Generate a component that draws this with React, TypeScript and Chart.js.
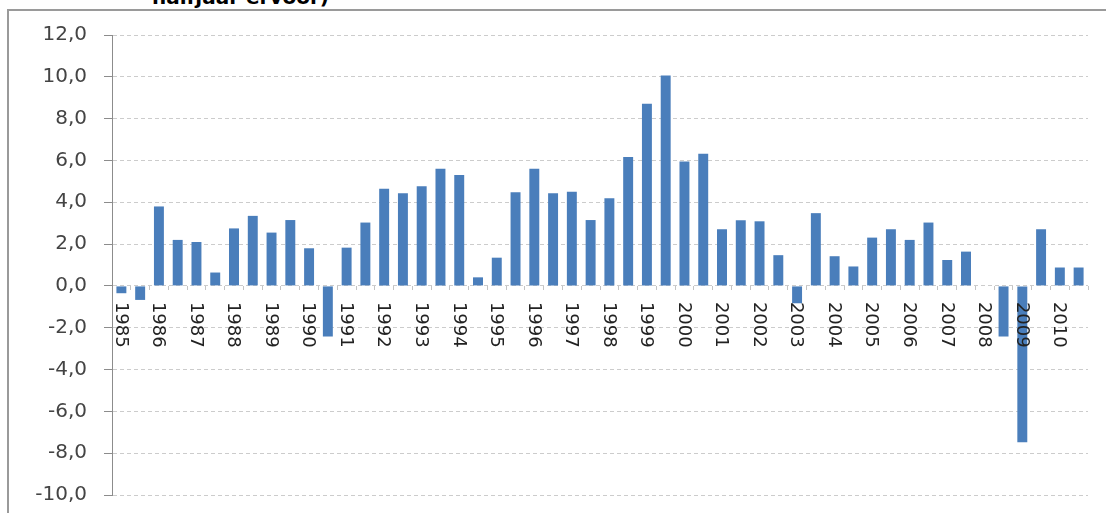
import React, { useEffect, useRef } from "react";
import { Chart, registerables } from "chart.js";

Chart.register(...registerables);

// Half-year data, 1985 H1 .. 2010 H2
const years: string[] = [
  "1985", "1986", "1987", "1988", "1989", "1990", "1991", "1992", "1993",
  "1994", "1995", "1996", "1997", "1998", "1999", "2000", "2001", "2002",
  "2003", "2004", "2005", "2006", "2007", "2008", "2009", "2010",
];
const halves: string[] = ["H1", "H2"];

const growth: number[] = [
  -0.35, -0.67,
  3.8, 2.2,
  2.1, 0.64,
  2.75, 3.35,
  2.55, 3.15,
  1.8, -2.42,
  1.83, 3.03,
  4.65, 4.43,
  4.77, 5.6,
  5.3, 0.41,
  1.35, 4.48,
  5.6, 4.43,
  4.5, 3.15,
  4.19, 6.17,
  8.71, 10.06,
  5.95, 6.32,
  2.71, 3.14,
  3.09, 1.47,
  -0.83, 3.48,
  1.42, 0.93,
  2.31, 2.71,
  2.2, 3.03,
  1.24, 1.64,
  0, -2.42,
  -7.48, 2.71,
  0.88, 0.88,
];

const yMin = -10;
const yMax = 12;
const yStep = 2;

const titleText = "halfjaar ervoor)";

const categories: string[] = years.flatMap((y) => halves.map((h) => `${y} ${h}`));

const yearLabelsPlugin = {
  id: "yearLabels",
  afterDatasetsDraw(chart: any) {
    const { ctx } = chart;
    const xs = chart.scales.x;
    const ys = chart.scales.y;
    const y0 = ys.getPixelForValue(0);
    ctx.save();
    ctx.font = "18px 'DejaVu Sans'";
    ctx.fillStyle = "#222222";
    ctx.textAlign = "left";
    ctx.textBaseline = "middle";
    years.forEach((yr, i) => {
      const x = xs.getPixelForValue(i * 2);
      ctx.save();
      ctx.translate(x - 1, y0 + 16);
      ctx.rotate(Math.PI / 2);
      ctx.fillText(yr, 0, 0);
      ctx.restore();
    });
    ctx.restore();
  },
};

export default function App() {
  const ref = useRef<HTMLCanvasElement | null>(null);

  useEffect(() => {
    if (!ref.current) return;
    const chart = new Chart(ref.current, {
      type: "bar",
      data: {
        labels: categories,
        datasets: [
          {
            data: growth,
            backgroundColor: "#4A7EBB",
            borderWidth: 0,
            barPercentage: 0.53,
            categoryPercentage: 1,
          },
        ],
      },
      options: {
        responsive: false,
        animation: false,
        devicePixelRatio: 1,
        layout: { padding: { left: 0, top: 35, right: 18, bottom: 18 } },
        plugins: {
          legend: { display: false },
          tooltip: { enabled: false },
          title: { display: false },
        },
        scales: {
          x: {
            type: "category",
            position: { y: 0 } as any,
            offset: true,
            grid: {
              offset: true,
              drawOnChartArea: false,
              drawTicks: true,
              tickLength: 4,
              tickColor: "#c4c4c4",
              color: "#c4c4c4",
            },
            border: { display: false },
            ticks: { display: false },
          },
          y: {
            min: yMin,
            max: yMax,
            afterFit(scale: any) {
              scale.width = 112;
              scale.paddingTop = 0;
              scale.paddingBottom = 0;
            },
            ticks: {
              stepSize: yStep,
              padding: 17,
              color: "#444444",
              font: { family: "'DejaVu Sans'", size: 20 },
              callback: (v: any) => Number(v).toFixed(1).replace(".", ","),
            },
            grid: {
              color: "#cccccc",
              lineWidth: 1,
              tickLength: 8,
              tickColor: "#8c8c8c",
              tickBorderDash: [],
            },
            border: {
              display: true,
              color: "#8c8c8c",
              width: 1,
              dash: [4, 3],
            },
          },
        },
      },
      plugins: [yearLabelsPlugin],
    });
    return () => chart.destroy();
  }, []);

  return (
    <div
      style={{
        position: "fixed",
        left: 0,
        top: 0,
        width: 1106,
        height: 513,
        background: "#ffffff",
        overflow: "hidden",
      }}
    >
      <div
        style={{
          position: "absolute",
          left: 152,
          top: -13,
          fontFamily: "'DejaVu Sans', sans-serif",
          fontWeight: "bold",
          fontSize: 20,
          lineHeight: "20px",
          color: "#000",
          whiteSpace: "nowrap",
        }}
      >
        {titleText}
      </div>
      <div
        style={{
          position: "absolute",
          left: 7,
          top: 9,
          width: 1120,
          height: 520,
          borderTop: "2px solid #9a9a9a",
          borderLeft: "2px solid #9a9a9a",
        }}
      />
      <canvas
        ref={ref}
        width={1106}
        height={513}
        style={{ position: "absolute", left: 0, top: 0, width: 1106, height: 513 }}
      />
    </div>
  );
}
